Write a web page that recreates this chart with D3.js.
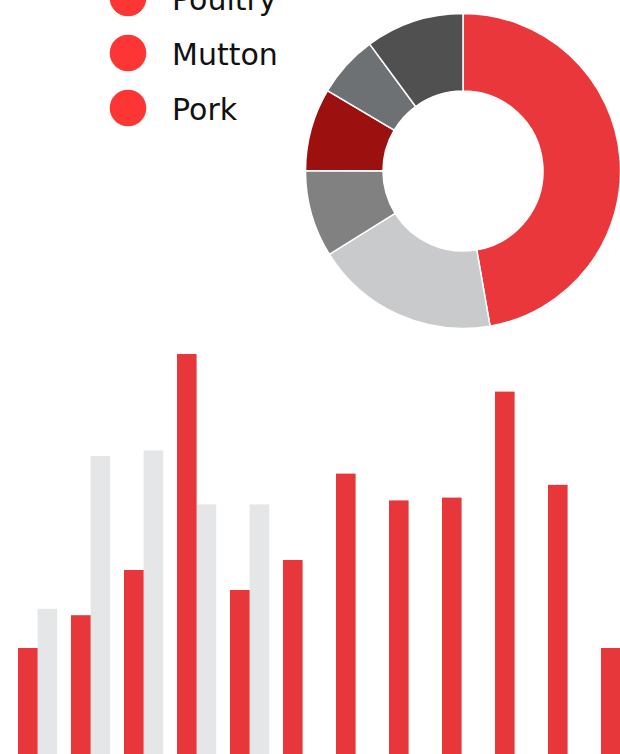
<!DOCTYPE html>
<html>
<head>
<meta charset="utf-8">
<script src="https://cdn.jsdelivr.net/npm/d3@7/dist/d3.min.js"></script>
<style>
  html, body { margin: 0; padding: 0; background: #ffffff; overflow: hidden; }
  svg { display: block; }
</style>
</head>
<body>
<svg id="chart" width="620" height="754"></svg>
<script>
// ---- Data ----
const legendLabels = ["Poultry", "Mutton", "Pork"];
const sliceNames = ["A", "B", "C", "D", "E", "F"];
const sliceValues = [47.3, 18.9, 8.9, 8.5, 6.4, 10.1];
const sliceColors = ["#e9373b", "#c9cacc", "#818181", "#9d1010", "#6e7174", "#505050"];
const barCategories = ["1", "2", "3", "4", "5", "6", "7", "8", "9", "10", "11", "12"];
const redValues = [26.5, 34.7, 46, 100, 41, 48.5, 70.1, 63.4, 64.1, 90.6, 67.3, 26.5];
const grayValues = [36.3, 74.5, 75.9, 62.4, 62.4, 0, 0, 0, 0, 0, 0, 0];
const seriesKeys = ["red", "gray"];
const seriesColors = ["#e8373b", "#e5e6e8"];

const svg = d3.select("#chart");

// ---- Legend ----
const legendY = d3.scalePoint().domain(legendLabels).range([-2, 108]);
const legend = svg.append("g");
legendLabels.forEach(l => {
  legend.append("circle")
    .attr("cx", 128).attr("cy", legendY(l)).attr("r", 18.3)
    .attr("fill", "#fd3535");
  legend.append("text")
    .attr("x", 172).attr("y", legendY(l) + 12)
    .attr("font-family", "DejaVu Sans")
    .attr("font-size", 30)
    .attr("fill", "#111111")
    .text(l);
});

// ---- Donut ----
const pie = d3.pie().sort(null).value(d => d.v);
const arc = d3.arc().innerRadius(80).outerRadius(157.5);
const pieData = pie(sliceNames.map((n, i) => ({ n, v: sliceValues[i] })));
const donut = svg.append("g").attr("transform", "translate(463,171)");
donut.selectAll("path")
  .data(pieData)
  .enter().append("path")
  .attr("d", arc)
  .attr("fill", (d, i) => sliceColors[i])
  .attr("stroke", "#ffffff")
  .attr("stroke-width", 1.5);

// ---- Bars ----
const x0 = d3.scaleBand().domain(barCategories)
  .range([11.1, 647.1]).paddingInner(0.26).paddingOuter(0.13);
const x1 = d3.scaleBand().domain(seriesKeys).range([0, x0.bandwidth()]).padding(0);
const y = d3.scaleLinear().domain([0, 100]).range([754, 354]);

const groups = svg.append("g").selectAll("g")
  .data(barCategories)
  .enter().append("g")
  .attr("transform", d => `translate(${x0(d)},0)`);

groups.selectAll("rect")
  .data((d, i) => [
    { k: "gray", v: grayValues[i] },
    { k: "red", v: redValues[i] }
  ])
  .enter().append("rect")
  .attr("x", d => x1(d.k))
  .attr("width", x1.bandwidth())
  .attr("y", d => y(d.v))
  .attr("height", d => y(0) - y(d.v))
  .attr("fill", d => seriesColors[seriesKeys.indexOf(d.k)]);
</script>
</body>
</html>
